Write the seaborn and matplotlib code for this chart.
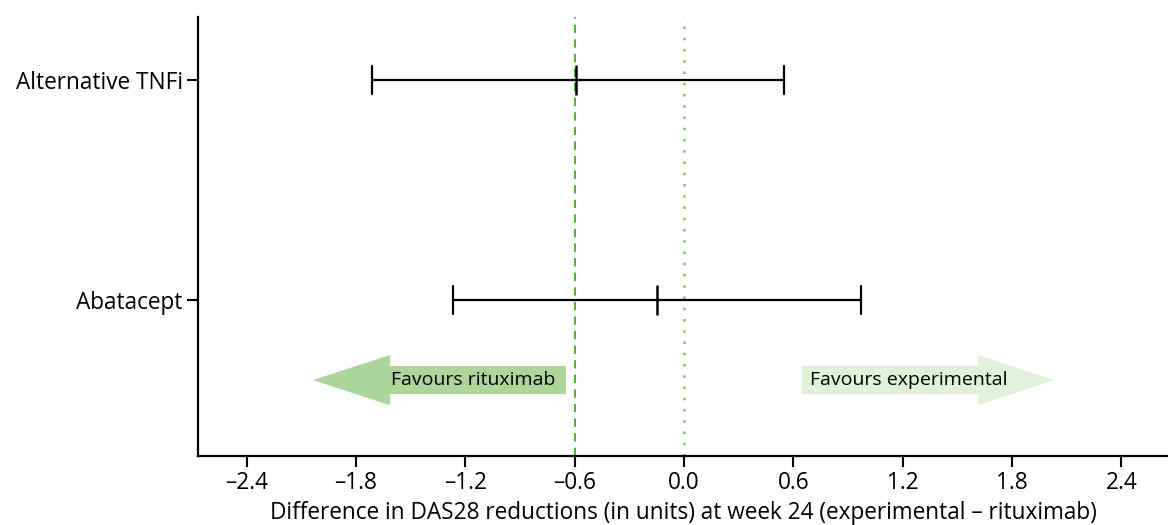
import matplotlib
matplotlib.use("Agg")
import matplotlib.pyplot as plt
import seaborn as sns
import pandas as pd

# Data
categories = ["Alternative TNFi", "Abatacept"]
estimates = [-0.59, -0.15]
lower = [-1.71, -1.27]
upper = [0.55, 0.97]
xticks = [-2.4, -1.8, -1.2, -0.6, 0.0, 0.6, 1.2, 1.8, 2.4]
xlabel = "Difference in DAS28 reductions (in units) at week 24 (experimental \u2013 rituximab)"
ref_lines = [-0.6, 0.0]

sns.set_theme(style="white")
plt.rcParams['font.family'] = ['Open Sans', 'DejaVu Sans']
plt.rcParams['axes.unicode_minus'] = False
plt.rcParams['text.color'] = 'black'
plt.rcParams['axes.labelcolor'] = 'black'

fig = plt.figure(figsize=(11.68, 5.25), dpi=100)
ax = fig.add_axes([0.1695, 0.1314, 0.8305, 0.8362])

# long-form so that median = estimate, 100% interval = CI
rows = []
for c, e, l, u in zip(categories, estimates, lower, upper):
    for v in (l, e, u):
        rows.append({"category": c, "value": v})
df = pd.DataFrame(rows)

sns.pointplot(data=df, x="value", y="category", order=categories,
              estimator="median", errorbar=("pi", 100), capsize=0.13,
              linestyle="none", color="black", err_kws={"linewidth": 1.6},
              marker="|", markersize=22, markeredgewidth=1.8, ax=ax)

ax.axvline(ref_lines[0], color="#5aae3c", linestyle=(0, (4, 3)), linewidth=1.5, zorder=0)
ax.axvline(ref_lines[1], color="#7cc262", linestyle=(0, (1, 3.5)), linewidth=1.8, zorder=0)

# Arrows
yarr = 1.364
ax.arrow(-0.648, yarr, -2.036 + 0.648, 0, width=0.128, head_width=0.228,
         head_length=0.422, length_includes_head=True,
         facecolor="#acd59c", edgecolor="none", zorder=1)
ax.arrow(0.648, yarr, 2.03 - 0.648, 0, width=0.128, head_width=0.228,
         head_length=0.416, length_includes_head=True,
         facecolor="#e1f1d9", edgecolor="none", zorder=1)
ax.text(-1.606, yarr, "Favours rituximab", ha="left", va="center", fontsize=14, color="black")
ax.text(0.692, yarr, "Favours experimental", ha="left", va="center", fontsize=14, color="black")

ax.set_xlim(-2.667, 2.656)
ax.set_ylim(1.709, -0.286)
ax.set_xticks(xticks)
ax.set_xticklabels([f"{t:.1f}".replace("-", "\u2013") for t in xticks])
ax.set_xlabel(xlabel, fontsize=16.3, labelpad=4, color="black")
ax.set_ylabel("")

for s in ["top", "right"]:
    ax.spines[s].set_visible(False)
for s in ["left", "bottom"]:
    ax.spines[s].set_color("black")
    ax.spines[s].set_linewidth(1.6)
ax.tick_params(axis="both", which="major", direction="out", length=8, width=1.5,
               color="black", labelsize=16.3, labelcolor="black", left=True, bottom=True)
ax.tick_params(axis="x", pad=3)
ax.tick_params(axis="y", pad=3)
ax.grid(False)

fig.savefig("out.png", dpi=100)
